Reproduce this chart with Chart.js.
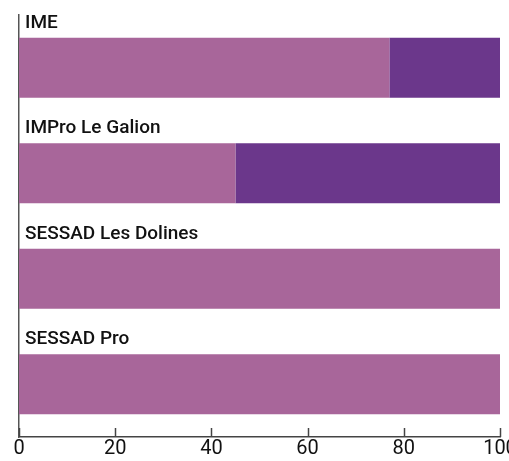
<!DOCTYPE html>
<html>
<head>
<meta charset="utf-8">
<script src="https://cdn.jsdelivr.net/npm/chart.js@4/dist/chart.umd.min.js"></script>
<style>
  html, body { margin: 0; padding: 0; background: #fff; overflow: hidden; }
  #wrap { width: 509px; height: 461px; position: relative; }
</style>
</head>
<body>
<div id="wrap"><canvas id="chart"></canvas></div>
<script>
const categories = ['IME', 'IMPro Le Galion', 'SESSAD Les Dolines', 'SESSAD Pro'];
const seriesA = [77, 45, 100, 100];
const seriesB = [23, 55, 0, 0];
const xTicks = [0, 20, 40, 60, 80, 100];

// category names written above each bar
const barLabels = {
  id: 'barLabels',
  afterDatasetsDraw(chart) {
    const ctx = chart.ctx;
    const meta = chart.getDatasetMeta(0);
    ctx.save();
    ctx.font = '500 19px Roboto';
    ctx.fillStyle = '#111';
    ctx.textAlign = 'left';
    ctx.textBaseline = 'alphabetic';
    meta.data.forEach((bar, i) => {
      const top = bar.y - bar.height / 2;
      ctx.fillText(categories[i], chart.chartArea.left + 6, top - 10);
    });
    ctx.restore();
  }
};

// small tick marks pointing up from the x axis
const upTicks = {
  id: 'upTicks',
  afterDraw(chart) {
    const ctx = chart.ctx;
    const x = chart.scales.x;
    const y0 = chart.chartArea.bottom;
    ctx.save();
    ctx.strokeStyle = '#444';
    ctx.lineWidth = 1.5;
    xTicks.forEach(v => {
      const px = Math.round(x.getPixelForValue(v)) + 0.5;
      ctx.beginPath();
      ctx.moveTo(px, y0);
      ctx.lineTo(px, y0 - 9);
      ctx.stroke();
    });
    ctx.restore();
  }
};

new Chart(document.getElementById('chart'), {
  type: 'bar',
  data: {
    labels: categories,
    datasets: [
      { data: seriesA, backgroundColor: '#a8669a', borderWidth: 0 },
      { data: seriesB, backgroundColor: '#6b378b', borderWidth: 0 }
    ]
  },
  options: {
    indexAxis: 'y',
    responsive: true,
    maintainAspectRatio: false,
    animation: false,
    layout: { padding: { top: 15, left: 19, right: 9, bottom: 0 } },
    categoryPercentage: 0.57,
    barPercentage: 1,
    plugins: { legend: { display: false }, tooltip: { enabled: false } },
    scales: {
      x: {
        stacked: true,
        min: 0,
        max: 100,
        afterBuildTicks(scale) { scale.ticks = xTicks.map(v => ({ value: v })); },
        afterFit(scale) { scale.paddingRight = 0; scale.paddingLeft = 0; },
        grid: { display: false, drawTicks: false },
        border: { display: true, color: '#444', width: 1.5 },
        ticks: { color: '#111', font: { family: 'Roboto', size: 20, lineHeight: 0.9 }, padding: 3 }
      },
      y: {
        stacked: true,
        grid: { display: false, drawTicks: false },
        border: { display: true, color: '#555', width: 1.5 },
        ticks: { display: false }
      }
    }
  },
  plugins: [barLabels, upTicks]
});
</script>
</body>
</html>
